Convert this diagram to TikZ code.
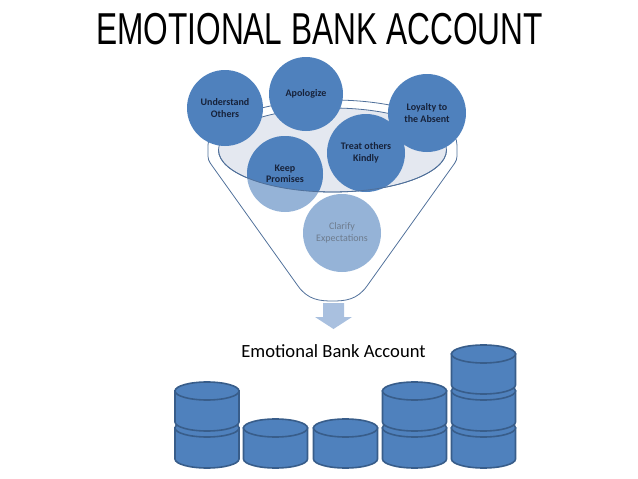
\documentclass[tikz,border=0pt]{standalone}
\usepackage{fontspec}
\setmainfont{Carlito}
\newfontfamily\titlefont{Liberation Sans}
\usepackage{tikz}
\usetikzlibrary{calc,positioning}
\usepackage{xcolor}
\definecolor{circleblue}{HTML}{4F81BD}
\definecolor{lightblue}{HTML}{95B3D7}
\definecolor{arrowblue}{HTML}{A9C0DF}
\definecolor{funnelblue}{HTML}{50709A}
\definecolor{funnelfill}{HTML}{E4E8F0}
\definecolor{coinedge}{HTML}{385D8A}
\definecolor{balltext}{HTML}{17223A}
\definecolor{cleartext}{HTML}{6E7C8E}

\begin{document}
\begin{tikzpicture}[x=1pt,y=-1pt]
        \tikzstyle{ball}=[circle,fill=circleblue,inner sep=0pt,minimum size=76pt,align=center,
            font=\bfseries\fontsize{10}{11.5}\selectfont,text=balltext]
        \tikzstyle{funnelline}=[draw=funnelblue,line width=0.8pt]
        \tikzstyle{coin}=[fill=circleblue,draw=coinedge,line width=1.6pt]
        \useasboundingbox (0,0) rectangle (638,479);
        % title
        \node[font=\titlefont\fontsize{44.7}{50}\selectfont,anchor=base] (title) at (319.5,44)
            {\scalebox{0.708}[1]{EMOTIONAL BANK ACCOUNT}};
        % funnel: rim, cone and inner opening
        \coordinate (rim) at (332.5,150);
        \draw[funnelline] (208,145) arc[start angle=180,end angle=360,x radius=124.5,y radius=45];
        \draw[funnelline] (208,145) -- (208,152) .. controls (208,160) .. (213,167)
            -- (298,286) .. controls (308,300) and (320,301) .. (332.5,301)
            .. controls (345,301) and (357,300) .. (367,286)
            -- (452,167) .. controls (457,160) .. (457,152) -- (457,145);
        \filldraw[funnelline,fill=funnelfill] (rim) ellipse [x radius=114,y radius=42];
        % circles
        \node[ball] (understand) at (225,108) {Understand\\Others};
        \node[ball,minimum size=74pt] (apologize) at (306,94) {Apologize};
        \node[ball,minimum size=78pt] (treat) at (366,153) {Treat others\\Kindly};
        \node[ball,minimum size=78pt] (loyalty) at (427,113) {Loyalty to\\the Absent};
        % half inside the funnel
        \node[ball,fill=lightblue,
            path picture={\fill[circleblue] (rim) ellipse [x radius=114pt,y radius=42pt];}]
            (keep) at (285,174) {Keep\\Promises};
        \node[ball,fill=lightblue,minimum size=78pt,font=\fontsize{10}{11.5}\selectfont,text=cleartext]
            (clarify) at (342,233) {Clarify\\Expectations};
        % front edge of the opening
        \draw[funnelline] (rim) ++(-114,0) arc[start angle=180,end angle=0,x radius=114,y radius=42];
        % arrow down
        \fill[arrowblue] (323,303) -- (344,303) -- (344,317) -- (352,317) -- (333.5,329)
            -- (315,317) -- (323,317) -- cycle;
        \node[font=\fontsize{18.6}{22}\selectfont,anchor=base] (account) at (333.5,357) {Emotional Bank Account};
        % stacks of coins, lower ones first
        \foreach \cx/\cy in {207/428,207/391,275.5/428,345.5/428,414.5/428,414.5/391,
            483.5/428,483.5/391,483.5/354}{
            \draw[coin] (\cx-32,\cy) -- (\cx-32,\cy+31)
                arc[start angle=180,end angle=0,x radius=32,y radius=9] -- (\cx+32,\cy) -- cycle;
            \draw[coin] (\cx,\cy) ellipse [x radius=32,y radius=9];
        }
\end{tikzpicture}
\end{document}
